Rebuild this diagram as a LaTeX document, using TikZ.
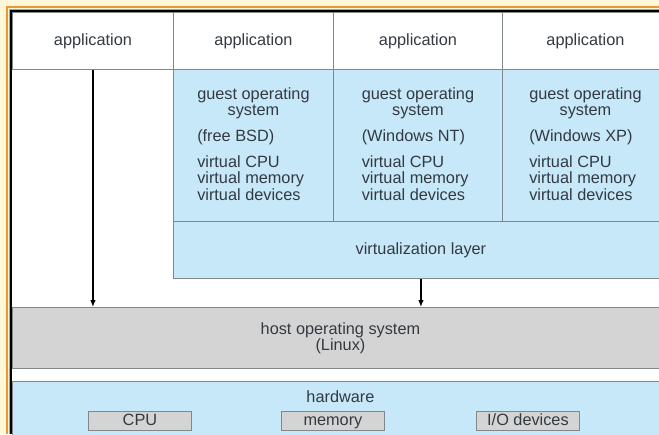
\documentclass[tikz,border=0pt]{standalone}
\usepackage{fontspec}
\setmainfont{Liberation Sans}
\usetikzlibrary{arrows.meta,positioning}

\newcommand{\osfont}{\fontsize{16.3}{16.3}\selectfont}

\begin{document}
\begin{tikzpicture}[x=1pt, y=-1pt,
        box/.style={draw=linegray, line width=0.9pt, anchor=north west,
            inner sep=0pt, text=textcolor, font=\osfont},
        devbox/.style={box, fill=hostgray, minimum width=103, minimum height=19,
            text height=11.8pt, text depth=3.4pt},
        txt/.style={inner sep=0pt, text=textcolor, font=\osfont},
        arr/.style={-{Latex[length=7pt,width=5.5pt]}, line width=1.1pt, black}]
    % -- colour definitions --------------------------------------------------
    \definecolor{framecream}{RGB}{255,247,214}
    \definecolor{frameorange}{RGB}{232,152,58}
    \definecolor{linegray}{RGB}{128,136,140}
    \definecolor{guestblue}{RGB}{198,232,248}
    \definecolor{hostgray}{RGB}{212,212,212}
    \definecolor{textcolor}{RGB}{52,58,66}

    % -- frame ----------------------------------------------------------------
    \useasboundingbox (0,0) rectangle (659,434);
    \clip (0,0) rectangle (659,434);
    \fill[framecream] (0,0) rectangle (659,434);
    \draw[frameorange, line width=2pt] (6.5,434) -- (6.5,6.5) -- (659,6.5);
    \draw[frameorange, line width=2pt] (9.5,434) -- (9.5,9.5) -- (659,9.5);
    \fill[white] (11,11) rectangle (659,434);
    \draw[black, line width=1.3pt] (11,434) -- (11,11) -- (659,11);

    % -- application row ------------------------------------------------------
    \foreach \n/\xa/\xb in {1/12/173, 2/173/333, 3/333/502, 4/502/668} {
        \node[box, fill=white, minimum width={\xb-\xa}, minimum height=57]
            (app\n) at (\xa,12) {application};
    }

    % -- guest operating systems ----------------------------------------------
    \foreach \n/\xa/\xb/\os in {1/173/333/free BSD, 2/333/502/Windows NT,
                                3/502/668/Windows XP} {
        \node[box, fill=guestblue, minimum width={\xb-\xa}, minimum height=152]
            (guest\n) at (\xa,69) {};
        \node[txt, align=center, below=18pt of guest\n.north]
            (gos\n) {guest operating\\system};
        \node[txt, below right=11pt and 0pt of gos\n.south west]
            (os\n) {(\os)};
        \node[txt, align=left, below right=10pt and 0pt of os\n.south west]
            (vdev\n) {virtual CPU\\virtual memory\\virtual devices};
    }

    % -- virtualization layer, host, hardware ---------------------------------
    \node[box, fill=guestblue, minimum width=495, minimum height=57]
        (virt) at (173,221) {virtualization layer};
    \node[box, fill=hostgray, minimum width=656, minimum height=61, align=center]
        (host) at (12,307) {host operating system\\(Linux)};
    \node[box, fill=guestblue, minimum width=656, minimum height=70]
        (hw) at (12,381) {};
    \node[txt, below=9pt of hw.north] (hwlabel) {hardware};
    \foreach \n/\xa/\lbl in {cpu/88/CPU, mem/281/memory, io/476/{I/O devices}} {
        \node[devbox] (\n) at (\xa,411) {\lbl};
    }

    % -- arrows ---------------------------------------------------------------
    \draw[arr] (app1.south) -- (app1.south |- host.north);
    \draw[arr] (virt.south) -- (virt.south |- host.north);
\end{tikzpicture}
\end{document}
